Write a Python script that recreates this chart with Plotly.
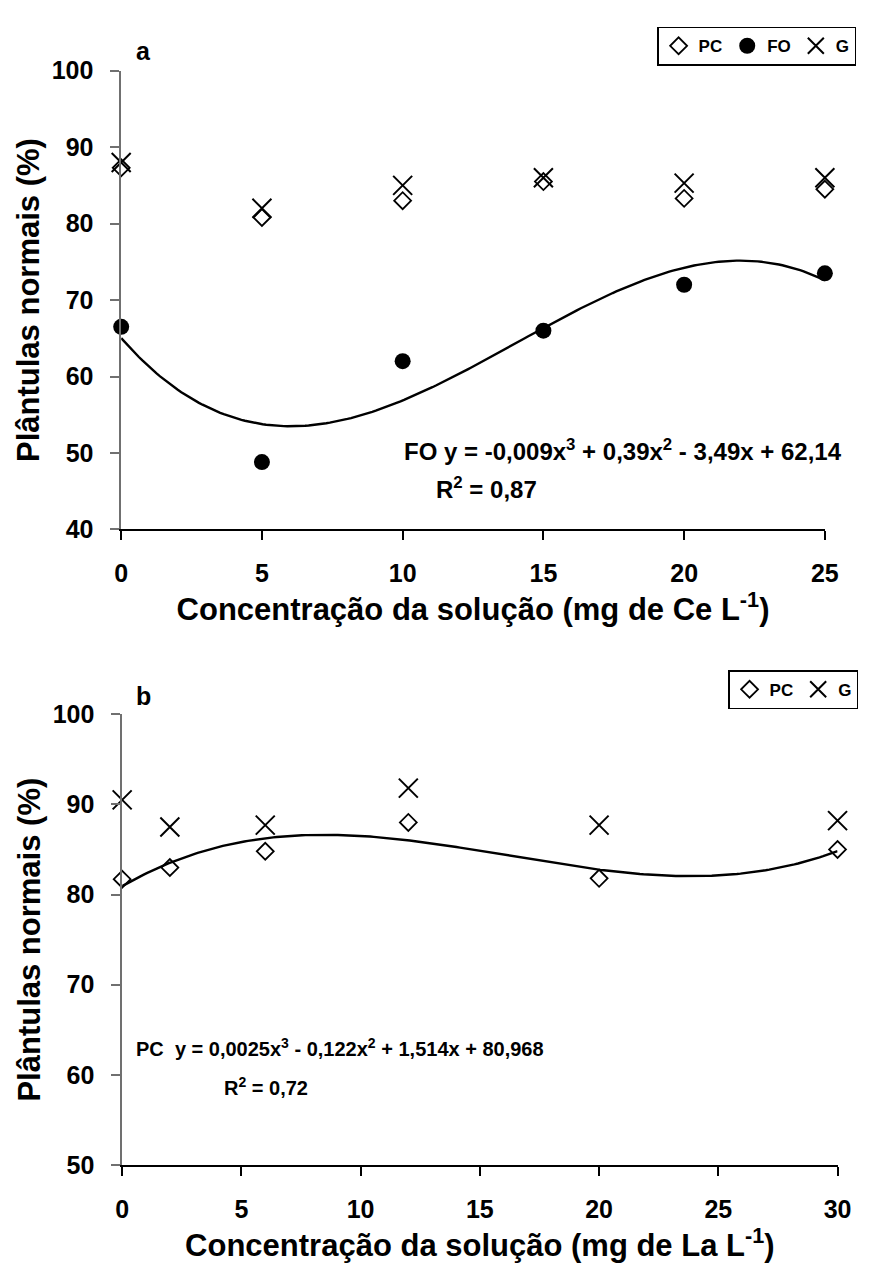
import numpy as np
import plotly.graph_objects as go

# ---- Panel a: cerium ----
ce_x = [0, 5, 10, 15, 20, 25]
ce_pc = [87.3, 80.8, 83.0, 85.5, 83.3, 84.5]
ce_fo = [66.5, 48.8, 62.0, 66.0, 72.0, 73.5]
ce_g = [88.0, 82.0, 85.0, 86.0, 85.3, 86.0]

# ---- Panel b: lanthanum ----
la_x = [0, 2, 6, 12, 20, 30]
la_pc = [81.7, 83.0, 84.8, 88.0, 81.8, 85.0]
la_g = [90.5, 87.5, 87.7, 91.8, 87.7, 88.2]

W, H = 874, 1271
FONT = "Liberation Sans, Arial, sans-serif"


def px(v):
    return v / W


def py(v):
    return 1 - v / H


def bold(size):
    return dict(family=FONT, size=size, color="black", weight="bold")


# cubic trendlines fitted to the plotted means
fo_fit = np.polyfit(ce_x, ce_fo, 3)
pc_fit = np.polyfit(la_x, la_pc, 3)

pc_marker = dict(symbol="diamond-open", size=13, color="black", line=dict(width=1.8, color="black"))
fo_marker = dict(symbol="circle", size=16, color="black", line=dict(width=0))
g_marker = dict(symbol="x-thin-open", size=19, color="black", line=dict(width=2, color="black"))

fig = go.Figure()

# panel a
xa = np.linspace(0, 25, 200)
fig.add_trace(go.Scatter(x=xa, y=np.polyval(fo_fit, xa), mode="lines",
                         line=dict(color="black", width=2.4), showlegend=False,
                         hoverinfo="skip", xaxis="x", yaxis="y"))
fig.add_trace(go.Scatter(x=ce_x, y=ce_pc, mode="markers", name="PC", marker=pc_marker,
                         cliponaxis=False, xaxis="x", yaxis="y", legend="legend"))
fig.add_trace(go.Scatter(x=ce_x, y=ce_fo, mode="markers", name="FO", marker=fo_marker,
                         cliponaxis=False, xaxis="x", yaxis="y", legend="legend"))
fig.add_trace(go.Scatter(x=ce_x, y=ce_g, mode="markers", name="G", marker=g_marker,
                         cliponaxis=False, xaxis="x", yaxis="y", legend="legend"))

# panel b
xb = np.linspace(0, 30, 200)
fig.add_trace(go.Scatter(x=xb, y=np.polyval(pc_fit, xb), mode="lines",
                         line=dict(color="black", width=2.4), showlegend=False,
                         hoverinfo="skip", xaxis="x2", yaxis="y2"))
fig.add_trace(go.Scatter(x=la_x, y=la_pc, mode="markers", name="PC", marker=pc_marker,
                         cliponaxis=False, xaxis="x2", yaxis="y2", legend="legend2"))
fig.add_trace(go.Scatter(x=la_x, y=la_g, mode="markers", name="G", marker=g_marker,
                         cliponaxis=False, xaxis="x2", yaxis="y2", legend="legend2"))

common_x = dict(showgrid=False, zeroline=False, showline=True, linecolor="black", linewidth=1.5,
                ticks="outside", ticklen=9, tickwidth=1.5, tickcolor="black", tickfont=bold(25),
                ticklabelstandoff=12, title_font=bold(31))
common_y = dict(showgrid=False, zeroline=False, showline=True, linecolor="#707070", linewidth=1.5,
                ticks="outside", ticklen=9, tickwidth=1.5, tickcolor="#707070", tickfont=bold(25),
                ticklabelstandoff=12, title_font=bold(31), title_standoff=3)

legend_common = dict(orientation="h", xanchor="right", yanchor="top",
                     bordercolor="black", borderwidth=1.5, bgcolor="white",
                     font=bold(17), itemwidth=30, tracegroupgap=0)

fig.update_layout(
    width=W, height=H,
    margin=dict(l=0, r=0, t=0, b=0),
    paper_bgcolor="white", plot_bgcolor="white",
    showlegend=True,
    xaxis=dict(common_x, domain=[px(117), px(838)], range=[0, 25], dtick=5, anchor="y",
               title=dict(text="Concentração da solução (mg de Ce L<sup>-1</sup>)", standoff=0)),
    yaxis=dict(common_y, domain=[py(527), py(58)], range=[40, 100], dtick=10, anchor="x",
               title=dict(text="Plântulas normais (%)")),
    xaxis2=dict(common_x, domain=[px(118), px(851)], range=[0, 30], dtick=5, anchor="y2",
                title=dict(text="Concentração da solução (mg de La L<sup>-1</sup>)", standoff=0)),
    yaxis2=dict(common_y, domain=[py(1177), py(716)], range=[50, 100], dtick=10, anchor="x2",
                title=dict(text="Plântulas normais (%)")),
    legend=dict(legend_common, x=px(870), y=py(13)),
    legend2=dict(legend_common, x=px(872), y=py(671)),
    annotations=[
        dict(text="a", x=px(140), y=py(38), xref="paper", yref="paper", xanchor="center",
             yanchor="middle", showarrow=False, font=bold(25)),
        dict(text="b", x=px(140), y=py(697), xref="paper", yref="paper", xanchor="center",
             yanchor="middle", showarrow=False, font=bold(25)),
        dict(text="FO y = -0,009x<sup>3</sup> + 0,39x<sup>2</sup> - 3,49x + 62,14",
             x=px(405), y=py(446), xref="paper", yref="paper", xanchor="left",
             yanchor="middle", showarrow=False, font=bold(24)),
        dict(text="R<sup>2</sup> = 0,87", x=px(437), y=py(485), xref="paper", yref="paper",
             xanchor="left", yanchor="middle", showarrow=False, font=bold(24)),
        dict(text="PC\u00a0 y = 0,0025x<sup>3</sup> - 0,122x<sup>2</sup> + 1,514x + 80,968",
             x=px(130), y=py(1057), xref="paper", yref="paper", xanchor="left",
             yanchor="middle", showarrow=False, font=bold(20)),
        dict(text="R<sup>2</sup> = 0,72", x=px(220), y=py(1097), xref="paper", yref="paper",
             xanchor="left", yanchor="middle", showarrow=False, font=bold(20)),
    ],
)

fig.write_html("out.html")
